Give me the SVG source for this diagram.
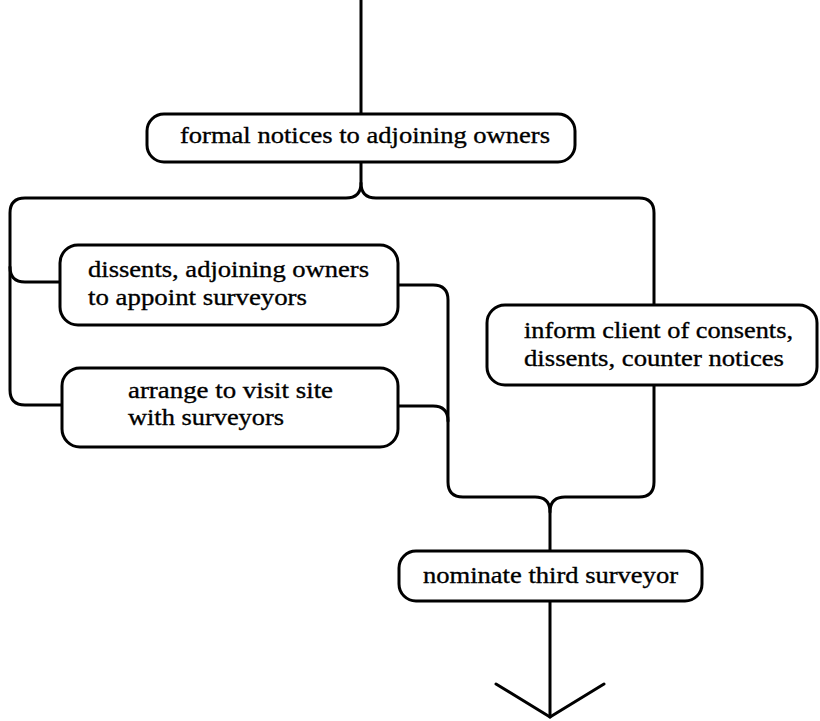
<svg xmlns="http://www.w3.org/2000/svg" width="820" height="721" viewBox="0 0 820 721">
  <style>
    .box { fill: #fff; stroke: #000; stroke-width: 3; }
    .wire { fill: none; stroke: #000; stroke-width: 3; stroke-linecap: round; stroke-linejoin: round; }
    .label { font-family: "Liberation Serif", "DejaVu Serif", serif; font-size: 24px; fill: #000; stroke: #000; stroke-width: 0.35; }
  </style>
  <rect width="820" height="721" fill="#fff"/>

  <!-- connectors drawn first so boxes sit on top -->
  <g id="connectors" class="wire">
    <path d="M361,0 V115"/>
    <!-- split below the notices box -->
    <path d="M361,162 V183 Q361,198 346,198 H25 Q10,198 10,213 V390 Q10,405 25,405 H62"/>
    <path d="M10,267 Q10,282 25,282 H60"/>
    <path d="M361,183 Q361,198 376,198 H639 Q654,198 654,213 V482 Q654,497 639,497 H565 Q550,497 550,512 V551"/>
    <!-- join of the left-hand branch -->
    <path d="M398,285 H433 Q448,285 448,300 V482 Q448,497 463,497 H535 Q550,497 550,512"/>
    <path d="M398,406 H433 Q448,406 448,421"/>
    <!-- outgoing arrow -->
    <path d="M550,601 V717"/>
    <path d="M496,684 L550,717 L604,684"/>
  </g>

  <g id="notices">
    <rect class="box" x="147" y="114" width="428" height="48" rx="17"/>
    <text class="label" x="180" y="143" textLength="370" lengthAdjust="spacingAndGlyphs">formal notices to adjoining owners</text>
  </g>

  <g id="dissents">
    <rect class="box" x="60" y="245" width="338" height="80" rx="18"/>
    <text class="label" x="88" y="277" textLength="281" lengthAdjust="spacingAndGlyphs">dissents, adjoining owners</text>
    <text class="label" x="88" y="305" textLength="219" lengthAdjust="spacingAndGlyphs">to appoint surveyors</text>
  </g>

  <g id="visit">
    <rect class="box" x="62" y="368" width="336" height="79" rx="18"/>
    <text class="label" x="128" y="398" textLength="205" lengthAdjust="spacingAndGlyphs">arrange to visit site</text>
    <text class="label" x="128" y="425" textLength="156" lengthAdjust="spacingAndGlyphs">with surveyors</text>
  </g>

  <g id="inform">
    <rect class="box" x="487" y="305" width="330" height="80" rx="18"/>
    <text class="label" x="524" y="338" textLength="269" lengthAdjust="spacingAndGlyphs">inform client of consents,</text>
    <text class="label" x="524" y="366" textLength="260" lengthAdjust="spacingAndGlyphs">dissents, counter notices</text>
  </g>

  <g id="third">
    <rect class="box" x="399" y="551" width="303" height="50" rx="17"/>
    <text class="label" x="423" y="583" textLength="255" lengthAdjust="spacingAndGlyphs">nominate third surveyor</text>
  </g>
</svg>
